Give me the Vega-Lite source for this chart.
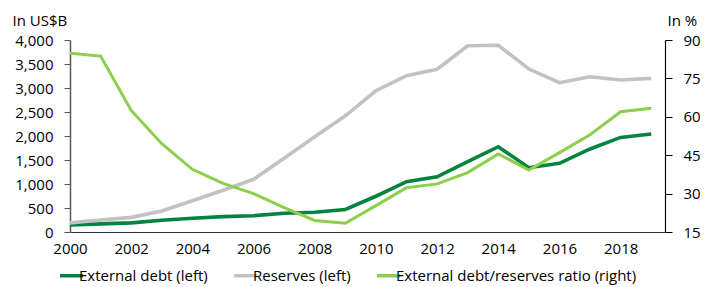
{
  "$schema": "https://vega.github.io/schema/vega-lite/v6.json",
  "width": 595,
  "height": 192,
  "autosize": {"type": "none"},
  "padding": {"left": 70, "top": 40, "right": 52, "bottom": 55},
  "background": "white",
  "config": {
    "font": "Open Sans",
    "view": {"stroke": null},
    "axis": {"grid": false, "labelFont": "Open Sans", "labelFontSize": 15, "labelColor": "#000", "titleFont": "Open Sans", "titleFontSize": 15, "titleFontWeight": "normal", "titleColor": "#000"}
  },
  "data": {"values": [
    {"year": 2000, "series": "External debt (left)", "value": 146},
    {"year": 2001, "series": "External debt (left)", "value": 170},
    {"year": 2002, "series": "External debt (left)", "value": 190},
    {"year": 2003, "series": "External debt (left)", "value": 245},
    {"year": 2004, "series": "External debt (left)", "value": 285},
    {"year": 2005, "series": "External debt (left)", "value": 320},
    {"year": 2006, "series": "External debt (left)", "value": 340},
    {"year": 2007, "series": "External debt (left)", "value": 390},
    {"year": 2008, "series": "External debt (left)", "value": 410},
    {"year": 2009, "series": "External debt (left)", "value": 470},
    {"year": 2010, "series": "External debt (left)", "value": 745},
    {"year": 2011, "series": "External debt (left)", "value": 1048},
    {"year": 2012, "series": "External debt (left)", "value": 1150},
    {"year": 2013, "series": "External debt (left)", "value": 1465},
    {"year": 2014, "series": "External debt (left)", "value": 1777},
    {"year": 2015, "series": "External debt (left)", "value": 1340},
    {"year": 2016, "series": "External debt (left)", "value": 1430},
    {"year": 2017, "series": "External debt (left)", "value": 1730},
    {"year": 2018, "series": "External debt (left)", "value": 1970},
    {"year": 2019, "series": "External debt (left)", "value": 2040},
    {"year": 2000, "series": "Reserves (left)", "value": 190},
    {"year": 2001, "series": "Reserves (left)", "value": 250},
    {"year": 2002, "series": "Reserves (left)", "value": 305},
    {"year": 2003, "series": "Reserves (left)", "value": 437},
    {"year": 2004, "series": "Reserves (left)", "value": 650},
    {"year": 2005, "series": "Reserves (left)", "value": 870},
    {"year": 2006, "series": "Reserves (left)", "value": 1098},
    {"year": 2007, "series": "Reserves (left)", "value": 1535},
    {"year": 2008, "series": "Reserves (left)", "value": 1985},
    {"year": 2009, "series": "Reserves (left)", "value": 2420},
    {"year": 2010, "series": "Reserves (left)", "value": 2943},
    {"year": 2011, "series": "Reserves (left)", "value": 3256},
    {"year": 2012, "series": "Reserves (left)", "value": 3390},
    {"year": 2013, "series": "Reserves (left)", "value": 3880},
    {"year": 2014, "series": "Reserves (left)", "value": 3890},
    {"year": 2015, "series": "Reserves (left)", "value": 3395},
    {"year": 2016, "series": "Reserves (left)", "value": 3110},
    {"year": 2017, "series": "Reserves (left)", "value": 3235},
    {"year": 2018, "series": "Reserves (left)", "value": 3166},
    {"year": 2019, "series": "Reserves (left)", "value": 3200},
    {"year": 2000, "series": "External debt/reserves ratio (right)", "value": 84.8},
    {"year": 2001, "series": "External debt/reserves ratio (right)", "value": 83.7},
    {"year": 2002, "series": "External debt/reserves ratio (right)", "value": 62.5},
    {"year": 2003, "series": "External debt/reserves ratio (right)", "value": 49.5},
    {"year": 2004, "series": "External debt/reserves ratio (right)", "value": 39.5},
    {"year": 2005, "series": "External debt/reserves ratio (right)", "value": 34},
    {"year": 2006, "series": "External debt/reserves ratio (right)", "value": 30},
    {"year": 2007, "series": "External debt/reserves ratio (right)", "value": 24.5},
    {"year": 2008, "series": "External debt/reserves ratio (right)", "value": 19.5},
    {"year": 2009, "series": "External debt/reserves ratio (right)", "value": 18.4},
    {"year": 2010, "series": "External debt/reserves ratio (right)", "value": 25.3},
    {"year": 2011, "series": "External debt/reserves ratio (right)", "value": 32.3},
    {"year": 2012, "series": "External debt/reserves ratio (right)", "value": 33.8},
    {"year": 2013, "series": "External debt/reserves ratio (right)", "value": 38.2},
    {"year": 2014, "series": "External debt/reserves ratio (right)", "value": 45.5},
    {"year": 2015, "series": "External debt/reserves ratio (right)", "value": 39.2},
    {"year": 2016, "series": "External debt/reserves ratio (right)", "value": 46},
    {"year": 2017, "series": "External debt/reserves ratio (right)", "value": 53},
    {"year": 2018, "series": "External debt/reserves ratio (right)", "value": 62},
    {"year": 2019, "series": "External debt/reserves ratio (right)", "value": 63.3}
  ]},
  "encoding": {
    "x": {"field": "year", "type": "quantitative",
      "scale": {"domain": [2000, 2019.45], "nice": false, "zero": false},
      "axis": {"values": [2000, 2002, 2004, 2006, 2008, 2010, 2012, 2014, 2016, 2018], "format": "d", "ticks": false, "labelPadding": 9, "domainColor": "#333", "domainWidth": 1.2, "title": null, "labelFlush": false}
    },
    "color": {"field": "series", "type": "nominal",
      "scale": {"domain": ["External debt (left)", "Reserves (left)", "External debt/reserves ratio (right)"], "range": ["#00843F", "#C2C2C2", "#8CCF4A"]},
      "legend": {"title": null, "orient": "none", "direction": "horizontal", "legendX": -12, "legendY": 222, "symbolType": "stroke", "symbolSize": 529, "symbolStrokeWidth": 3.5, "labelFont": "Open Sans", "labelFontSize": 15, "labelColor": "#000", "labelOffset": -6, "columnPadding": 19, "padding": 0, "labelLimit": 400}
    }
  },
  "layer": [
    {
      "transform": [{"filter": "datum.series !== 'External debt/reserves ratio (right)'"}],
      "mark": {"type": "line", "strokeWidth": 3.6, "interpolate": "linear"},
      "encoding": {
        "y": {"field": "value", "type": "quantitative",
          "scale": {"domain": [0, 4000], "nice": false},
          "axis": {"orient": "left", "values": [0, 500, 1000, 1500, 2000, 2500, 3000, 3500, 4000], "format": ",.0f", "tickSize": 6, "tickColor": "#555", "domainColor": "#555", "domainWidth": 1.5, "labelPadding": 11, "title": "In US$B", "titleAngle": 0, "titleAlign": "left", "titleBaseline": "alphabetic", "titleX": -58, "titleY": -15}
        },
        "order": {"field": "series", "sort": "descending"}
      }
    },
    {
      "transform": [{"filter": "datum.series === 'External debt/reserves ratio (right)'"}],
      "mark": {"type": "line", "strokeWidth": 3, "interpolate": "linear"},
      "encoding": {
        "y": {"field": "value", "type": "quantitative",
          "scale": {"domain": [15, 90], "nice": false, "zero": false},
          "axis": {"orient": "right", "values": [15, 30, 45, 60, 75, 90], "tickSize": 7, "tickColor": "#000", "domainColor": "#000", "domainWidth": 1.2, "labelPadding": 11, "title": "In %", "titleAngle": 0, "titleAlign": "left", "titleBaseline": "alphabetic", "titleX": 2, "titleY": -15}
        }
      }
    }
  ],
  "resolve": {"scale": {"y": "independent"}}
}
